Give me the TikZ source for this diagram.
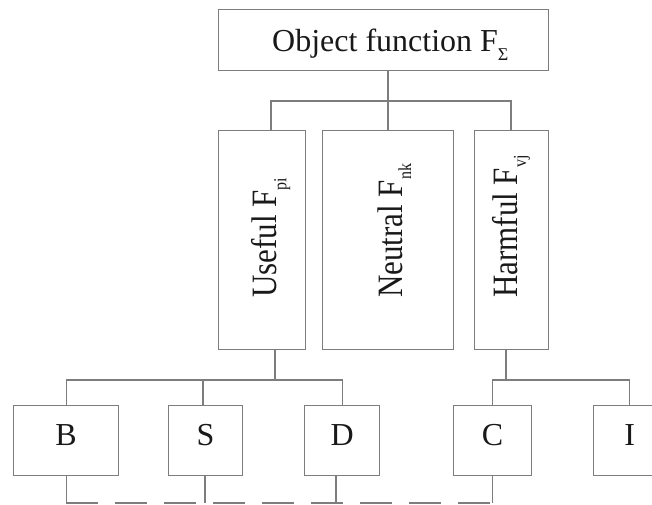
\documentclass[tikz,border=0pt]{standalone}
\usepackage{fontspec}
\setmainfont{Liberation Serif}
\definecolor{linegray}{RGB}{125,125,125}
\definecolor{ink}{RGB}{25,25,25}
\newcommand\lowsub[3]{\raisebox{-#1pt}{\fontsize{#2}{#2}\selectfont #3}}
\begin{document}
\begin{tikzpicture}[x=1pt,y=-1pt,
  box/.style={draw=linegray,line width=1.2pt,inner sep=0pt,anchor=north west},
  conn/.style={draw=linegray,line width=1.2pt},
  busline/.style={conn,dash pattern=on 32pt off 17pt},
  lbl/.style={inner sep=0pt,text=ink,font=\fontsize{32}{32}\selectfont},
  vlbl/.style={inner sep=0pt,text=ink,font=\fontsize{31}{31}\selectfont,rotate=90,anchor=base west},
  letter/.style={box,text=ink,font=\fontsize{32}{32}\selectfont,text height=21pt,text depth=11pt}]
\useasboundingbox (0,0) rectangle (652,504);

% top box
\node[box,minimum width=330pt,minimum height=61pt] (top) at (218,9) {};
\node[lbl,anchor=base west] (toptext) at (272,51) {Object function F\lowsub{9}{18}{Σ}};

% middle boxes
\node[box,minimum width=87pt,minimum height=219pt] (useful) at (218,130) {};
\node[box,minimum width=131pt,minimum height=219pt] (neutral) at (322,130) {};
\node[box,minimum width=74pt,minimum height=219pt] (harmful) at (474,130) {};
\node[vlbl] (usefultext) at (276,298) {\scalebox{1}[1.15]{Useful F\lowsub{9}{16}{pi}}};
\node[vlbl] (neutraltext) at (402,298) {\scalebox{1}[1.15]{Neutral F\lowsub{8}{16}{nk}}};
\node[vlbl] (harmfultext) at (517,298) {\scalebox{1}[1.15]{Harmful F\lowsub{8}{16}{vj}}};

% bottom boxes
\node[letter,minimum width=105pt,minimum height=70pt] (B) at (13,405) {B};
\node[letter,minimum width=74pt,minimum height=70pt] (S) at (168,405) {S};
\node[letter,minimum width=75pt,minimum height=70pt] (D) at (304,405) {D};
\node[letter,minimum width=78pt,minimum height=70pt] (C) at (453,405) {C};
\node[letter,minimum width=72pt,minimum height=70pt] (I) at (593,405) {I};

% junction coordinates
\coordinate (j0) at (388,101);
\coordinate (u1) at (271,101);
\coordinate (h1) at (511,101);
\coordinate (u2) at (275,380);
\coordinate (h2) at (506,380);
\coordinate (s2) at (203,380);
\coordinate (bl) at (0,503);
\coordinate (s3) at (205,503);
\coordinate (d3) at (336,503);

% upper connectors
\draw[conn] (j0 |- top.south) -- (j0 |- neutral.north);
\draw[conn] (u1 |- useful.north) -- (u1) -- (h1) -- (h1 |- harmful.north);

% middle to bottom connectors
\draw[conn] (u2 |- useful.south) -- (u2);
\draw[conn] (B.north) -- (B.north |- u2) -- (D.north |- u2) -- (D.north);
\draw[conn] (s2 |- S.north) -- (s2);
\draw[conn] (h2 |- harmful.south) -- (h2);
\draw[conn] (C.north) -- (C.north |- h2) -- (I.north |- h2) -- (I.north);

% bottom connectors
\draw[conn] (B.south) -- (B.south |- bl);
\draw[conn] (s3 |- S.south) -- (s3);
\draw[conn] (d3 |- D.south) -- (d3);
\draw[conn] (C.south) -- (C.south |- bl);
\draw[busline] (B.south |- bl) -- (C.south |- bl);
\end{tikzpicture}
\end{document}
